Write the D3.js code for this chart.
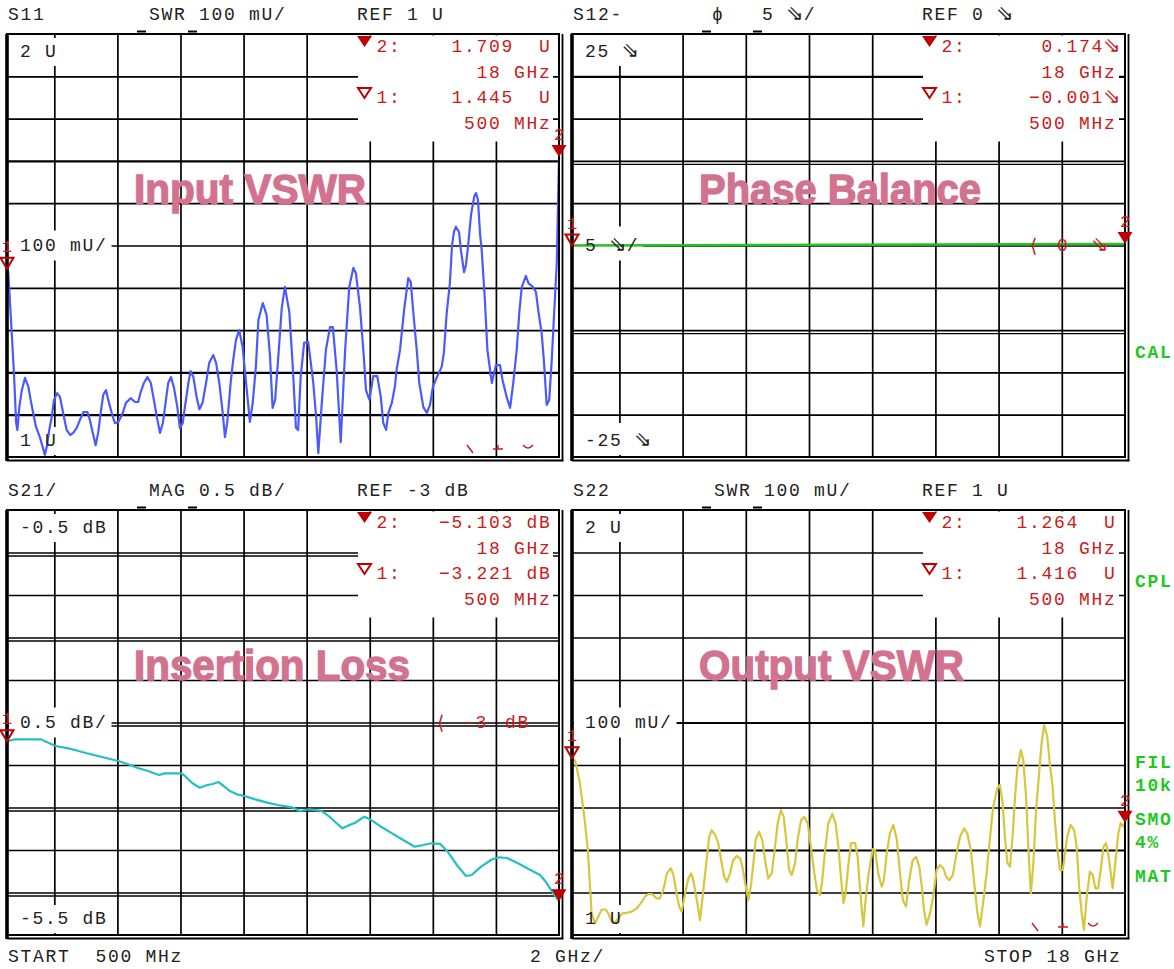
<!DOCTYPE html>
<html><head><meta charset="utf-8">
<script src="https://cdn.jsdelivr.net/npm/d3@7"></script>
<style>
html,body{margin:0;padding:0;background:#fff;overflow:hidden}
svg{display:block}
.mono{font-family:"Liberation Mono","Courier New",monospace;font-size:18px;letter-spacing:1.7px;white-space:pre}
.arr{font-family:"DejaVu Sans",sans-serif;font-size:21px;letter-spacing:0}
.bold{font-weight:bold}
.wm{font-family:"Liberation Sans",Arial,sans-serif;font-weight:bold;font-size:42px}
</style></head><body>
<svg id="c" width="1174" height="969"></svg>
<script>
// ---------------- DATA ----------------
const freqRange = [0.5, 18];           // GHz, START / STOP
const gridFreqs = [2, 4, 6, 8, 10, 12, 14, 16];
const markerFreqs = [0.5, 18];

const swrDomain = [1, 2];
const swrLevels = [1.1, 1.2, 1.3, 1.4, 1.5, 1.6, 1.7, 1.8, 1.9];
const phaseDomain = [-25, 25];
const phaseLevels = [-20, -15, -10, -5, 0, 5, 10, 15, 20];
const magDomain = [-5.5, -0.5];
const magLevels = [-5, -4.5, -4, -3.5, -3, -2.5, -2, -1.5, -1];

// S11 input VSWR
const s11Freq = [0.5,0.54,0.65,0.72,0.79,0.83,0.89,0.97,1.07,1.18,
 1.25,1.33,1.42,1.55,1.63,1.70,1.76,1.84,1.92,1.99,
 2.09,2.18,2.28,2.39,2.50,2.60,2.71,2.81,2.92,3.05,
 3.13,3.22,3.31,3.39,3.47,3.55,3.64,3.71,3.82,3.92,
 4.03,4.17,4.27,4.42,4.56,4.66,4.74,4.84,4.95,5.06,
 5.14,5.25,5.35,5.44,5.51,5.61,5.70,5.79,5.90,5.98,
 6.07,6.14,6.25,6.32,6.41,6.51,6.60,6.70,6.81,6.91,
 7.04,7.13,7.23,7.34,7.41,7.48,7.59,7.67,7.76,7.86,
 7.97,8.08,8.20,8.29,8.39,8.47,8.61,8.73,8.84,8.92,
 9.00,9.10,9.21,9.31,9.45,9.56,9.66,9.73,9.81,9.92,
 10.05,10.21,10.30,10.37,10.48,10.61,10.74,10.83,10.95,11.08,
 11.22,11.35,11.48,11.56,11.69,11.82,11.88,11.99,12.11,12.24,
 12.35,12.43,12.52,12.59,12.70,12.80,12.85,12.96,13.09,13.22,
 13.30,13.38,13.49,13.57,13.70,13.81,13.91,14.00,14.12,14.28,
 14.35,14.44,14.54,14.61,14.67,14.73,14.83,14.89,14.99,15.05,
 15.12,15.21,15.31,15.37,15.43,15.50,15.55,15.65,15.73,15.87,
 16.00,16.13,16.21,16.34,16.45,16.55,16.66,16.74,16.82,16.95,
 17.03,17.17,17.27,17.34,17.45,17.52,17.61,17.69,17.77,17.84,17.93,18.0];
const s11Swr = [1.445,1.437,1.293,1.199,1.080,1.064,1.118,1.158,1.187,1.165,
 1.135,1.104,1.071,1.045,1.024,1.005,1.024,1.064,1.095,1.135,
 1.151,1.142,1.104,1.064,1.052,1.057,1.069,1.087,1.106,1.106,
 1.087,1.057,1.028,1.057,1.104,1.147,1.158,1.135,1.104,1.080,
 1.083,1.104,1.128,1.139,1.130,1.130,1.154,1.175,1.189,1.175,
 1.142,1.095,1.057,1.080,1.118,1.175,1.189,1.165,1.118,1.069,
 1.080,1.118,1.175,1.203,1.189,1.142,1.113,1.128,1.175,1.222,
 1.241,1.222,1.175,1.104,1.047,1.080,1.175,1.229,1.277,1.300,
 1.260,1.175,1.083,1.128,1.213,1.324,1.364,1.336,1.236,1.116,
 1.135,1.236,1.352,1.402,1.343,1.213,1.069,1.064,1.189,1.270,
 1.272,1.175,1.095,1.009,1.128,1.253,1.307,1.307,1.206,1.035,
 1.253,1.402,1.447,1.435,1.355,1.229,1.158,1.135,1.191,1.191,
 1.142,1.080,1.064,1.104,1.128,1.168,1.206,1.253,1.348,1.423,
 1.414,1.343,1.253,1.175,1.118,1.104,1.123,1.165,1.187,1.213,
 1.246,1.340,1.411,1.501,1.532,1.544,1.532,1.489,1.437,1.454,
 1.501,1.572,1.615,1.624,1.608,1.525,1.489,1.371,1.253,1.175,
 1.217,1.217,1.182,1.142,1.116,1.175,1.253,1.340,1.402,1.428,
 1.411,1.402,1.390,1.348,1.293,1.229,1.123,1.135,1.229,1.331,1.459,1.709];
const s11Markers = [1.445, 1.709];

// S12 phase balance
const s12Freq = [0.5, 18];
const s12Phase = [-0.001, 0.174];
const s12Markers = [-0.001, 0.174];

// S21 insertion loss
const s21Freq = [0.5,0.75,1.57,1.74,2.04,2.45,2.74,3.03,3.38,3.80,
 4.03,4.32,4.62,4.97,5.32,5.50,6.03,6.14,6.38,6.61,
 6.85,7.02,7.20,7.37,7.55,7.79,8.02,8.37,8.72,9.08,
 9.54,9.78,10.07,10.46,10.72,10.95,11.13,11.36,11.54,11.83,
 12.01,12.36,12.71,13.06,13.42,13.71,13.94,14.24,14.47,14.76,
 15.05,15.23,15.53,15.88,16.11,16.35,16.70,17.05,17.40,17.58,
 17.75,18.0];
const s21Mag = [-3.221,-3.198,-3.198,-3.226,-3.276,-3.304,-3.332,-3.362,-3.394,-3.433,
 -3.453,-3.488,-3.532,-3.571,-3.618,-3.598,-3.598,-3.629,-3.715,-3.767,
 -3.735,-3.724,-3.700,-3.747,-3.802,-3.845,-3.865,-3.904,-3.939,-3.971,
 -3.998,-4.041,-4.021,-4.038,-4.108,-4.186,-4.245,-4.206,-4.179,-4.108,
 -4.139,-4.226,-4.304,-4.382,-4.461,-4.441,-4.421,-4.429,-4.520,-4.676,
 -4.806,-4.794,-4.696,-4.609,-4.586,-4.594,-4.656,-4.727,-4.794,-4.873,
 -4.971,-5.103];
const s21Markers = [-3.221, -5.103];

// S22 output VSWR
const s22Freq = [0.5,0.6,0.75,0.89,1.00,1.07,1.12,1.23,1.33,1.44,
 1.57,1.65,1.76,1.86,1.97,2.09,2.23,2.39,2.55,2.68,
 2.81,2.91,3.04,3.18,3.28,3.37,3.44,3.50,3.63,3.71,
 3.81,3.89,3.97,4.08,4.18,4.27,4.34,4.45,4.55,4.60,
 4.69,4.76,4.84,4.92,5.03,5.13,5.22,5.32,5.40,5.50,
 5.60,5.71,5.82,5.89,6.00,6.08,6.16,6.24,6.31,6.42,
 6.52,6.61,6.71,6.82,6.90,7.01,7.11,7.20,7.29,7.37,
 7.45,7.56,7.64,7.75,7.85,7.96,8.06,8.17,8.25,8.35,
 8.42,8.51,8.61,8.74,8.84,8.93,9.01,9.09,9.16,9.24,
 9.33,9.46,9.54,9.61,9.72,9.79,9.88,10.02,10.09,10.19,
 10.30,10.37,10.46,10.56,10.67,10.78,10.86,10.97,11.07,11.17,
 11.28,11.39,11.49,11.57,11.64,11.72,11.83,11.93,12.04,12.15,
 12.25,12.34,12.44,12.55,12.67,12.78,12.91,13.01,13.12,13.22,
 13.33,13.41,13.52,13.62,13.73,13.83,13.96,14.04,14.13,14.20,
 14.28,14.36,14.45,14.52,14.59,14.70,14.78,14.87,14.94,15.02,
 15.10,15.18,15.29,15.36,15.44,15.54,15.63,15.71,15.78,15.86,
 15.94,16.03,16.10,16.17,16.28,16.39,16.47,16.55,16.63,16.70,
 16.79,16.89,16.98,17.06,17.15,17.23,17.32,17.40,17.47,17.55,
 17.61,17.68,17.79,17.86,17.95,18.0];
const s22Swr = [1.416,1.41,1.358,1.278,1.200,1.114,1.051,1.028,1.043,1.060,
 1.060,1.051,1.031,1.028,1.039,1.051,1.052,1.055,1.063,1.075,
 1.090,1.096,1.096,1.086,1.086,1.102,1.122,1.145,1.157,1.141,
 1.098,1.067,1.055,1.098,1.133,1.145,1.129,1.082,1.035,1.067,
 1.129,1.176,1.231,1.247,1.235,1.216,1.176,1.137,1.125,1.145,
 1.176,1.186,1.180,1.161,1.114,1.082,1.114,1.169,1.224,1.243,
 1.224,1.176,1.133,1.145,1.192,1.263,1.294,1.278,1.216,1.153,
 1.141,1.169,1.224,1.271,1.278,1.263,1.208,1.145,1.106,1.094,
 1.129,1.200,1.263,1.285,1.263,1.208,1.137,1.075,1.098,1.161,
 1.216,1.216,1.184,1.114,1.020,1.082,1.141,1.202,1.200,1.145,
 1.114,1.129,1.192,1.239,1.259,1.224,1.161,1.082,1.067,1.129,
 1.176,1.184,1.161,1.114,1.059,1.024,1.051,1.090,1.153,1.165,
 1.157,1.137,1.129,1.141,1.192,1.231,1.251,1.239,1.200,1.129,
 1.051,1.020,1.082,1.145,1.231,1.302,1.345,1.353,1.310,1.231,
 1.169,1.161,1.239,1.325,1.388,1.435,1.412,1.325,1.208,1.098,
 1.169,1.286,1.388,1.451,1.494,1.467,1.396,1.349,1.271,1.200,
 1.153,1.153,1.192,1.231,1.259,1.247,1.208,1.114,1.051,1.012,
 1.090,1.149,1.141,1.110,1.110,1.153,1.208,1.216,1.192,1.145,
 1.110,1.161,1.239,1.263,1.255,1.264];
const s22Markers = [1.416, 1.264];

// texts
const headerTexts = {
  s11: ["S11", "SWR 100 mU/", "REF 1 U"],
  s12: ["S12-", "\u03d5   5 \u21d8/", "REF 0 \u21d8"],
  s21: ["S21/", "MAG 0.5 dB/", "REF -3 dB"],
  s22: ["S22", "SWR 100 mU/", "REF 1 U"]
};
const scaleLabels = {
  s11: ["2 U", "100 mU/", "1 U"],
  s12: ["25 \u21d8", "5 \u21d8/", "-25 \u21d8"],
  s21: ["-0.5 dB", "0.5 dB/", "-5.5 dB"],
  s22: ["2 U", "100 mU/", "1 U"]
};
const markerFreqLabels = ["500 MHz", "18 GHz"];
const titles = {s11: "Input VSWR", s12: "Phase Balance", s21: "Insertion Loss", s22: "Output VSWR"};
const sideLabels = ["CAL", "CPL", "FIL", "10k", "SMO", "4%", "MAT"];
const footer = ["START  500 MHz", "2 GHz/", "STOP 18 GHz"];

// ---------------- LAYOUT / STYLE ----------------
const layout = {
  s11: {left: 7, right: 559, top: 34, bottom: 457},
  s12: {left: 572, right: 1125, top: 34, bottom: 457},
  s21: {left: 7, right: 559, top: 510, bottom: 935},
  s22: {left: 572, right: 1125, top: 510, bottom: 935}
};
const specs = [
  {key: "s11", freq: s11Freq, vals: s11Swr, marks: s11Markers, domain: swrDomain, levels: swrLevels,
   heavy: [1.1, 1.2, 1.7], dbl: [], color: "#4a5aff", fmt: ".3f", unit: "  U", ref: null, deco: true, wmW: 232},
  {key: "s12", freq: s12Freq, vals: s12Phase, marks: s12Markers, domain: phaseDomain, levels: phaseLevels,
   heavy: [20], dbl: [10, -10], color: "#22c322", fmt: ".3f", unit: "\u21d8", ref: ["0", "\u21d8"], deco: false, wmW: 282},
  {key: "s21", freq: s21Freq, vals: s21Mag, marks: s21Markers, domain: magDomain, levels: magLevels,
   heavy: [], dbl: [-1, -2, -3, -4, -5], color: "#22c0c4", fmt: ".3f", unit: " dB", ref: ["-3", "dB"], deco: false, wmW: 276},
  {key: "s22", freq: s22Freq, vals: s22Swr, marks: s22Markers, domain: swrDomain, levels: swrLevels,
   heavy: [1.2, 1.5], dbl: [], color: "#d8c63e", fmt: ".3f", unit: "  U", ref: null, deco: true, wmW: 265}
];
const RED = "#cc1a1a", DARKRED = "#c00000", GREEN = "#1ec81e", WM = "#d3728f";

const svg = d3.select("#c");
svg.append("rect").attr("width", 1174).attr("height", 969).attr("fill", "#fff");

const Lgrid = svg.append("g"), Lbox = svg.append("g"), Lwm = svg.append("g"),
      Ltrace = svg.append("g"), Lframe = svg.append("g"), Ltext = svg.append("g"), Lmark = svg.append("g");

function mtext(g, x, y, s, fill, cls) {
  const t = g.append("text").attr("class", "mono" + (cls ? " " + cls : "")).attr("x", x).attr("y", y)
    .attr("fill", fill || "#222");
  // split on the hollow arrow glyph so it can use a font that has it
  s.split(/(\u21d8)/).filter(p => p.length).forEach(p => {
    const ts = t.append("tspan").text(p);
    if (p === "\u21d8") ts.attr("class", "arr").attr("dx", -1);
  });
  return t;
}
function boxBehind(t, padL, padR, padT, padB, minX) {
  const b = t.node().getBBox();
  const x0 = minX != null ? minX : b.x - padL;
  Lbox.append("rect").attr("x", x0).attr("y", b.y - padT)
    .attr("width", b.x + b.width + padR - x0).attr("height", b.height + padT + padB).attr("fill", "#fff");
}

specs.forEach(sp => {
  const L = layout[sp.key];
  const W = L.right - L.left, H = L.bottom - L.top;
  const x = d3.scaleLinear().domain(freqRange).range([L.left, L.right]);
  const y = d3.scaleLinear().domain(sp.domain).range([L.bottom, L.top]);

  // grid: vertical
  Lgrid.append("g").attr("transform", `translate(0,${L.bottom})`)
    .call(d3.axisBottom(x).tickValues(gridFreqs).tickSize(-H).tickFormat(""))
    .call(g => g.select(".domain").remove())
    .selectAll("line").attr("stroke", "#000").attr("stroke-width", 1.7);
  // grid: horizontal
  const hg = Lgrid.append("g").attr("transform", `translate(${L.left},0)`)
    .call(d3.axisLeft(y).tickValues(sp.levels).tickSize(-W).tickFormat(""))
    .call(g => g.select(".domain").remove());
  hg.selectAll("line").attr("stroke", "#000")
    .attr("stroke-width", d => sp.heavy.includes(d) ? 2.2 : 1.7);
  sp.dbl.forEach(v => {
    Lgrid.append("line").attr("x1", L.left).attr("x2", L.right)
      .attr("y1", y(v) + 3.5).attr("y2", y(v) + 3.5).attr("stroke", "#000").attr("stroke-width", 1.4);
  });

  // readout box
  Lbox.append("rect").attr("x", L.left + 351).attr("y", L.top + 1.5)
    .attr("width", (L.right - 6) - (L.left + 351)).attr("height", 106).attr("fill", "#fff");

  // watermark
  Lwm.append("text").attr("class", "wm").attr("x", L.left + 127).attr("y", L.top + 170)
    .attr("fill", WM).attr("stroke", WM).attr("stroke-width", 1.3)
    .attr("textLength", sp.wmW).attr("lengthAdjust", "spacingAndGlyphs")
    .text(titles[sp.key]);

  // trace
  const line = d3.line().x(d => x(d[0])).y(d => y(d[1]));
  Ltrace.append("path").attr("d", line(d3.zip(sp.freq, sp.vals)))
    .attr("fill", "none").attr("stroke", sp.color)
    .attr("stroke-width", sp.key === "s12" ? 2.6 : 2.2).attr("stroke-linejoin", "round");

  // frame
  Lframe.append("rect").attr("x", L.left).attr("y", L.top).attr("width", W).attr("height", H)
    .attr("fill", "none").attr("stroke", "#000").attr("stroke-width", 2);
  Lframe.append("line").attr("x1", L.left).attr("x2", L.left).attr("y1", L.top).attr("y2", L.bottom + 4)
    .attr("stroke", "#000").attr("stroke-width", 3.6);
  Lframe.append("line").attr("x1", L.right + 3.5).attr("x2", L.right + 3.5).attr("y1", L.top).attr("y2", L.bottom + 4.3)
    .attr("stroke", "#000").attr("stroke-width", 1.8);
  Lframe.append("line").attr("x1", L.left).attr("x2", L.right + 4.3).attr("y1", L.bottom + 3.5).attr("y2", L.bottom + 3.5)
    .attr("stroke", "#000").attr("stroke-width", 1.8);
  [[130, 139], [181, 190]].forEach(d => {
    Lframe.append("line").attr("x1", L.left + d[0]).attr("x2", L.left + d[1])
      .attr("y1", L.top - 2.5).attr("y2", L.top - 2.5).attr("stroke", "#000").attr("stroke-width", 2);
  });

  // header
  const hdr = headerTexts[sp.key];
  mtext(Ltext, L.left + 1, L.top - 14, hdr[0]);
  mtext(Ltext, L.left + (sp.key === "s12" ? 140 : 142), L.top - 14, hdr[1]);
  mtext(Ltext, L.left + 350, L.top - 14, hdr[2]);

  // scale labels
  const sl = scaleLabels[sp.key];
  const tTop = mtext(Ltext, L.left + 13, L.top + 23, sl[0]);
  boxBehind(tTop, 6, 4, 4, 4);
  const mid = (sp.domain[0] + sp.domain[1]) / 2;
  const tMid = mtext(Ltext, L.left + 13, y(mid) + 5, sl[1]);
  boxBehind(tMid, 0, 4, 5, 5, L.left + 2);
  const tBot = mtext(Ltext, L.left + 13, L.bottom - 11, sl[2]);
  boxBehind(tBot, 6, 4, 4, 4);

  // reference indicator
  if (sp.ref) {
    const yr = y(mid) + 5;
    const bx = sp.key === "s12" ? L.right - 95 : L.right - 122;
    Ltext.append("text").attr("x", bx).attr("y", yr + 1).attr("fill", RED)
      .style("font-family", "DejaVu Sans").style("font-size", "19px").text("\u27e8");
    mtext(Ltext, bx + (sp.key === "s12" ? 27 : 26), yr, sp.ref[0], RED);
    mtext(Ltext, bx + (sp.key === "s12" ? 62 : 68), yr, sp.ref[1], RED);
  }

  // readouts
  const f = d3.format(sp.fmt);
  const padW = 12 - sp.unit.length;
  const rows = [
    "2:" + f(sp.marks[1]).padStart(padW) + sp.unit,
    markerFreqLabels[1].padStart(14),
    "1:" + f(sp.marks[0]).padStart(padW) + sp.unit,
    markerFreqLabels[0].padStart(14)
  ];
  [18, 44, 69, 95].forEach((dy, i) => mtext(Ltext, L.left + 369.5, L.top + dy, rows[i], RED));
  const rx = L.left + 357.5;
  Lmark.append("path").attr("d", `M${rx - 7.5},${L.top + 2}L${rx + 7.5},${L.top + 2}L${rx},${L.top + 13}Z`).attr("fill", DARKRED);
  Lmark.append("path").attr("d", `M${rx - 6.5},${L.top + 54}L${rx + 6.5},${L.top + 54}L${rx},${L.top + 64}Z`)
    .attr("fill", "none").attr("stroke", DARKRED).attr("stroke-width", 2);

  // trace markers
  const m1x = x(markerFreqs[0]), m1y = y(sp.marks[0]);
  const m2x = x(markerFreqs[1]), m2y = y(sp.marks[1]);
  Lmark.append("path").attr("d", `M${m1x - 6.5},${m1y - 11}L${m1x + 6.5},${m1y - 11}L${m1x},${m1y}Z`)
    .attr("fill", "none").attr("stroke", DARKRED).attr("stroke-width", 2);
  Lmark.append("path").attr("d", `M${m2x - 7.5},${m2y - 12}L${m2x + 7.5},${m2y - 12}L${m2x},${m2y}Z`).attr("fill", DARKRED);
  [[m1x, m1y, "1"], [m2x, m2y, "2"]].forEach(d => {
    Lmark.append("text").attr("x", d[0]).attr("y", d[1] - 17).attr("text-anchor", "middle")
      .attr("fill", RED).style("font-family", "Liberation Mono").style("font-size", "17px").text(d[2]);
  });

  // small red remnants at bottom of SWR panels
  if (sp.deco) {
    const by = L.bottom - 12;
    const dg = Lmark.append("g").attr("stroke", RED).attr("stroke-width", 1.4).attr("fill", "none");
    dg.append("path").attr("d", `M${L.left + 460},${by}L${L.left + 466},${by + 8}`);
    dg.append("path").attr("d", `M${L.left + 486},${by + 4}H${L.left + 496}M${L.left + 491},${by}V${by + 4}`);
    dg.append("path").attr("d", `M${L.left + 516},${by}Q${L.left + 521},${by + 6} ${L.left + 526},${by}`);
  }
});

// side labels (green)
[358, 587, 768, 791, 825, 848, 882].forEach((yy, i) => {
  mtext(Ltext, 1135, yy, sideLabels[i], GREEN, "bold");
});

// footer
mtext(Ltext, 8, 962, footer[0]);
mtext(Ltext, 530, 962, footer[1]);
mtext(Ltext, 984, 962, footer[2]);
</script>
</body></html>
